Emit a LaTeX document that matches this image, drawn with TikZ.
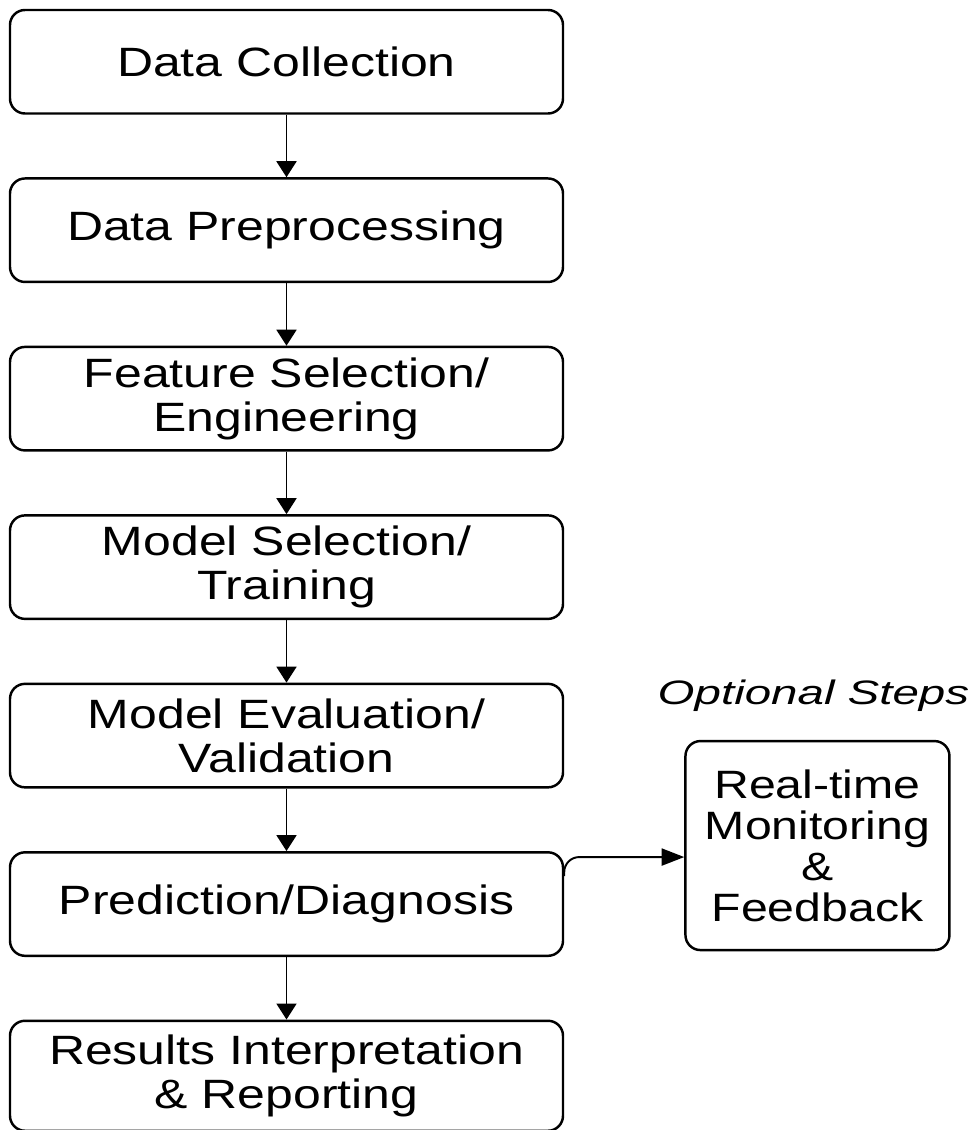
\documentclass[tikz,border=0pt]{standalone}
\usepackage{fontspec}
\setmainfont{Liberation Sans}[FakeStretch=1.22]
\newfontfamily\optfont{Liberation Sans}[FakeStretch=1.4]
\usetikzlibrary{positioning,arrows.meta}

\begin{document}
\begin{tikzpicture}[
    node distance=1.25cm,
    process/.style={rectangle, draw, line width=1.4pt, rounded corners=0.3cm, align=center, inner sep=0pt, minimum width=11.06cm, minimum height=2.07cm, font=\fontsize{23.3}{25}\selectfont},
    optbox/.style={process, minimum width=5.28cm, minimum height=4.18cm, font=\fontsize{22.5}{23.4}\selectfont},
    optlabel/.style={inner sep=0pt, font=\optfont\itshape\fontsize{19.3}{20}\selectfont},
    arrow/.style={line width=1.1pt, -{Triangle[length=0.32cm, width=0.4cm]}},
    sidearrow/.style={line width=1.1pt, -{Triangle[length=0.45cm, width=0.34cm]}}
]
    \useasboundingbox (0,0) rectangle (19.46,-22.6);

    % Main pipeline
    \node [process] (collect) at (5.73,-1.235) {Data Collection};
    \node [process, below=of collect] (prep) {Data Preprocessing};
    \node [process, below=of prep] (feature) {Feature Selection/\\Engineering};
    \node [process, below=of feature] (model) {Model Selection/\\Training};
    \node [process, below=of model] (eval) {Model Evaluation/\\Validation};
    \node [process, below=of eval] (pred) {Prediction/Diagnosis};
    \node [process, below=of pred, minimum height=2.2cm] (report) {Results Interpretation\\\& Reporting};

    % Optional branch
    \node [optbox, right=2.4cm of pred, yshift=1.17cm] (monitor) {Real-time\\Monitoring\\\&\\Feedback};
    \node [optlabel, above=0.55cm of monitor, xshift=-0.08cm] (optional) {Optional Steps};

    % Connections
    \draw [arrow] (collect) -- (prep);
    \draw [arrow] (prep) -- (feature);
    \draw [arrow] (feature) -- (model);
    \draw [arrow] (model) -- (eval);
    \draw [arrow] (eval) -- (pred);
    \draw [arrow] (pred) -- (report);
    \draw [sidearrow, rounded corners=0.3cm] ([yshift=-0.5cm]pred.north east) |- ([yshift=-0.23cm]monitor.west);
\end{tikzpicture}
\end{document}
